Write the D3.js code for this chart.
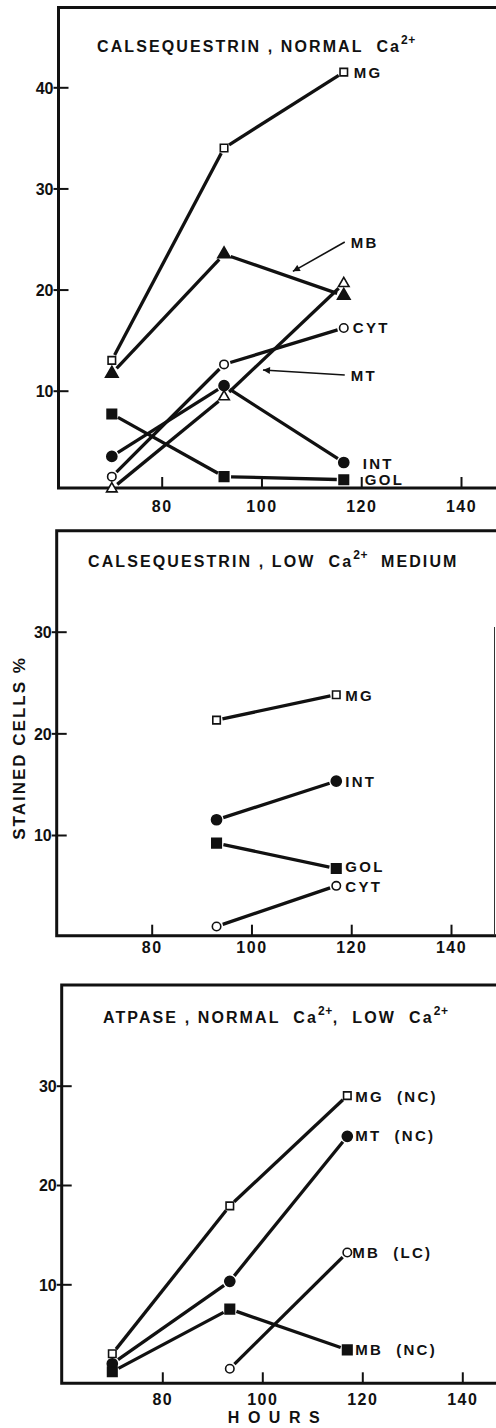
<!DOCTYPE html>
<html>
<head>
<meta charset="utf-8">
<script src="https://cdn.jsdelivr.net/npm/d3@7"></script>
<style>
  body { margin: 0; background: #fff; }
  svg text { font-family: "Liberation Sans", Arial, sans-serif; font-weight: bold; fill: #111; }
</style>
</head>
<body>
<svg id="fig" width="496" height="1428"></svg>
<script>
// ---- data (hours after plating, % stained cells) ----
// panel 1: calsequestrin, normal Ca2+
var hoursNormal = [70, 92.5, 116.5];
var namesNormal = ["MG", "MB", "MT", "CYT", "INT", "GOL"];
var valuesNormal = [
    [13, 34, 41.5],
    [11.7, 23.5, 19.4],
    [0.3, 9.4, 20.6],
    [1.5, 12.6, 16.2],
    [3.5, 10.5, 2.9],
    [7.7, 1.5, 1.2]
];
// panel 2: calsequestrin, low Ca2+ medium
var hoursLow = [93, 117];
var namesLow = ["MG", "INT", "GOL", "CYT"];
var valuesLow = [
    [21.3, 23.8],
    [11.5, 15.3],
    [9.2, 6.7],
    [1.0, 5.0]
];
// panel 3: ATPase, normal / low Ca2+
var hoursAtp = [70, 93.5, 117];
var namesAtp = ["MG (NC)", "MT (NC)", "MB (NC)", "MB (LC)"];
var valuesAtp = [
    [3.0, 17.9, 29.0],
    [2.0, 10.3, 24.9],
    [1.2, 7.5, 3.4],
    [null, 1.5, 13.2]
];
var xTicks = [80, 100, 120, 140];
var yTicksNormal = [10, 20, 30, 40];
var yTicksOther = [10, 20, 30];
// arrow annotations in panel 1, [hours, %]
var arrowNames = ["MB", "MT"];
var arrowFrom = [[116.7, 24.7], [116.7, 11.55]];
var arrowTo = [[106.3, 21.8], [100.3, 12.05]];

// ---- layout ----
var svg = d3.select("#fig");

var panels = [
    {
        left: 58.5, top: 7.5, bottom: 488, xr: [161.7, 461], yd: [10, 40], yr: [390.7, 87.3],
        labelGap: 23.5, title: [["CALSEQUESTRIN , NORMAL  Ca", false], ["2+", true]],
        titlePos: [97, 52],
        hours: hoursNormal, names: namesNormal, values: valuesNormal, yTicks: yTicksNormal,
        symbols: ["openSquare", "filledTriangle", "openTriangle", "openCircle", "filledCircle", "filledSquare"],
        labelOff: [[10, 6], null, null, [9, 5], [19, 6], [21, 5]]
    },
    {
        left: 56.7, top: 530.7, bottom: 935.7, xr: [151.7, 451], yd: [10, 30], yr: [835, 631.7],
        labelGap: 17.5, title: [["CALSEQUESTRIN , LOW  Ca", false], ["2+", true], ["  MEDIUM", false]],
        titlePos: [88, 567], rightEdge: [627, 935.7],
        hours: hoursLow, names: namesLow, values: valuesLow, yTicks: yTicksOther,
        symbols: ["openSquare", "filledCircle", "filledSquare", "openCircle"],
        labelOff: [[9, 6], [9, 6], [9, 3], [9, 6]]
    },
    {
        left: 61.7, top: 985, bottom: 1383.3, xr: [162.3, 462.3], yd: [10, 30], yr: [1284.3, 1085.7],
        labelGap: 21.5, title: [["ATPASE , NORMAL  Ca", false], ["2+", true], [",  LOW  Ca", false], ["2+", true]],
        titlePos: [103, 1023],
        hours: hoursAtp, names: namesAtp, values: valuesAtp, yTicks: yTicksOther,
        symbols: ["openSquare", "filledCircle", "filledSquare", "openCircle"],
        labelOff: [[8, 6], [8, 5], [8, 5], [5, 5]]
    }
];

var symbolDefs = {
    openSquare: { type: d3.symbolSquare, size: 56, fill: "#fff", r: 4 },
    filledSquare: { type: d3.symbolSquare, size: 90, fill: "#111", r: 5 },
    openCircle: { type: d3.symbolCircle, size: 56, fill: "#fff", r: 4.5 },
    filledCircle: { type: d3.symbolCircle, size: 80, fill: "#111", r: 5 },
    openTriangle: { type: d3.symbolTriangle, size: 48, fill: "#fff", r: 5 },
    filledTriangle: { type: d3.symbolTriangle, size: 68, fill: "#111", r: 5 }
};

svg.append("defs").append("marker")
    .attr("id", "head")
    .attr("viewBox", "0 0 10 10")
    .attr("refX", 10).attr("refY", 5)
    .attr("markerWidth", 9).attr("markerHeight", 7)
    .attr("markerUnits", "userSpaceOnUse")
    .attr("orient", "auto")
    .append("path")
    .attr("d", "M0,0 L10,5 L0,10 z")
    .attr("fill", "#111");

panels.forEach(function (p, pi) {
    var g = svg.append("g");

    var x = d3.scaleLinear().domain([80, 140]).range(p.xr);
    var y = d3.scaleLinear().domain(p.yd).range(p.yr);

    // frame: top, left, bottom
    g.append("path")
        .attr("d", "M496," + p.top + " H" + p.left + " V" + p.bottom + " H496")
        .attr("fill", "none")
        .attr("stroke", "#111")
        .attr("stroke-width", 3);
    if (p.rightEdge) {
        g.append("line")
            .attr("x1", 494.5).attr("x2", 494.5)
            .attr("y1", p.rightEdge[0]).attr("y2", p.rightEdge[1])
            .attr("stroke", "#333").attr("stroke-width", 1);
    }

    // y axis
    var yAxis = g.append("g")
        .attr("transform", "translate(" + p.left + ",0)")
        .call(d3.axisLeft(y).tickValues(p.yTicks).tickSize(-10).tickSizeOuter(0));
    yAxis.select(".domain").remove();
    yAxis.selectAll(".tick line").attr("x1", -5).attr("stroke", "#111").attr("stroke-width", 2);
    yAxis.selectAll(".tick text")
        .attr("x", -5).attr("dy", "0.36em")
        .attr("font-size", 16).attr("fill", "#111")
        .style("font-family", "'Liberation Sans', Arial, sans-serif");

    // x axis
    var xAxis = g.append("g")
        .attr("transform", "translate(0," + p.bottom + ")")
        .call(d3.axisBottom(x).tickValues(xTicks).tickSize(-11).tickSizeOuter(0));
    xAxis.select(".domain").remove();
    xAxis.selectAll(".tick line").attr("stroke", "#111").attr("stroke-width", 2);
    xAxis.selectAll(".tick text")
        .attr("y", p.labelGap).attr("dy", 0)
        .attr("font-size", 16).attr("fill", "#111")
        .attr("letter-spacing", 1.5)
        .style("font-family", "'Liberation Sans', Arial, sans-serif");

    // title with superscripts
    var t = g.append("text")
        .attr("x", p.titlePos[0]).attr("y", p.titlePos[1])
        .attr("font-size", 16)
        .attr("letter-spacing", 2.1)
        .style("white-space", "pre");
    p.title.forEach(function (part) {
        var span = t.append("tspan").text(part[0]);
        if (part[1]) {
            span.attr("font-size", 12).attr("dy", -8).attr("letter-spacing", 0.5);
        } else if (t.selectAll("tspan").size() > 1) {
            span.attr("dy", 8);
        }
    });

    // series
    p.names.forEach(function (name, si) {
        var pts = [];
        p.values[si].forEach(function (v, i) {
            if (v !== null) pts.push([x(p.hours[i]), y(v)]);
        });
        var def = symbolDefs[p.symbols[si]];

        // segments with small gaps at the markers
        for (var i = 0; i < pts.length - 1; i++) {
            var a = pts[i], b = pts[i + 1];
            var dx = b[0] - a[0], dy = b[1] - a[1];
            var len = Math.sqrt(dx * dx + dy * dy);
            var gap = def.r + 2;
            g.append("line")
                .attr("x1", a[0] + dx / len * gap).attr("y1", a[1] + dy / len * gap)
                .attr("x2", b[0] - dx / len * gap).attr("y2", b[1] - dy / len * gap)
                .attr("stroke", "#111")
                .attr("stroke-width", 3.3);
        }

        g.selectAll(null)
            .data(pts)
            .enter().append("path")
            .attr("transform", function (d) { return "translate(" + d[0] + "," + d[1] + ")"; })
            .attr("d", d3.symbol().type(def.type).size(def.size))
            .attr("fill", def.fill)
            .attr("stroke", "#111")
            .attr("stroke-width", 1.6);

        var off = p.labelOff[si];
        if (off) {
            var last = pts[pts.length - 1];
            g.append("text")
                .attr("x", last[0] + off[0])
                .attr("y", last[1] + off[1])
                .attr("font-size", 15)
                .attr("letter-spacing", 2.3)
                .style("white-space", "pre")
                .text(name.replace(" ", "  "));
        }
    });

    // arrow annotations (panel 1 only)
    if (pi === 0) {
        arrowNames.forEach(function (name, ai) {
            var f = arrowFrom[ai], to = arrowTo[ai];
            g.append("line")
                .attr("x1", x(f[0])).attr("y1", y(f[1]))
                .attr("x2", x(to[0])).attr("y2", y(to[1]))
                .attr("stroke", "#111")
                .attr("stroke-width", 1.6)
                .attr("marker-end", "url(#head)");
            g.append("text")
                .attr("x", x(f[0]) + 6)
                .attr("y", y(f[1]) + 6)
                .attr("font-size", 15)
                .attr("letter-spacing", 2.3)
                .text(name);
        });
    }
});

// axis titles
svg.append("text")
    .attr("transform", "translate(25,748) rotate(-90)")
    .attr("text-anchor", "middle")
    .attr("font-size", 17)
    .attr("letter-spacing", 2)
    .text("STAINED CELLS %");

svg.append("text")
    .attr("x", 278).attr("y", 1423)
    .attr("text-anchor", "middle")
    .attr("font-size", 16)
    .attr("letter-spacing", 8.5)
    .text("HOURS");
</script>
</body>
</html>
